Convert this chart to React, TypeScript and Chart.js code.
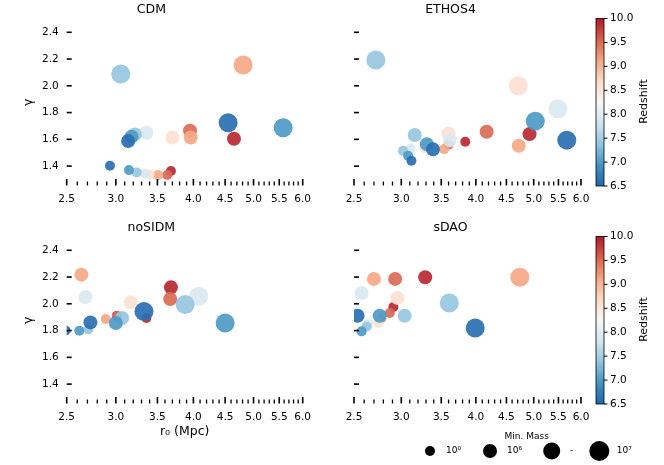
import React, { useEffect, useRef } from 'react';
import { Chart, registerables } from 'chart.js';

Chart.register(...registerables);

const FONT = "'DejaVu Sans', 'Liberation Sans', sans-serif";

// ---------- data: r0 (Mpc), gamma, redshift, log10(min. mass) ----------
const cdmR0 = [3.055, 4.81, 4.55, 5.58, 4.65, 3.95, 3.96, 3.70, 3.36, 3.22, 3.18, 3.14, 2.935, 3.15, 3.24, 3.34, 3.40, 3.51, 3.63, 3.68];
const cdmGamma = [2.088, 2.155, 1.724, 1.686, 1.604, 1.664, 1.614, 1.614, 1.649, 1.637, 1.62, 1.587, 1.402, 1.37, 1.353, 1.345, 1.338, 1.333, 1.333, 1.363];
const cdmZ = [7.4, 9.1, 6.6, 7.0, 9.9, 9.5, 9.1, 8.6, 7.9, 7.4, 7.0, 6.6, 6.6, 7.0, 7.4, 7.9, 8.6, 9.1, 9.5, 9.9];
const cdmMass = [7, 7, 7, 7, 6, 6, 6, 6, 6, 6, 6, 6, 0, 0, 0, 0, 0, 0, 0, 0];

const ethosR0 = [2.72, 4.71, 5.49, 5.03, 5.68, 4.92, 4.72, 4.17, 3.84, 3.60, 3.62, 3.54, 3.60, 3.31, 3.39, 3.28, 3.16, 3.02, 3.11, 3.08, 3.12];
const ethosGamma = [2.193, 2.0, 1.828, 1.736, 1.594, 1.639, 1.552, 1.657, 1.582, 1.644, 1.594, 1.527, 1.56, 1.564, 1.525, 1.535, 1.632, 1.514, 1.532, 1.477, 1.44];
const ethosZ = [7.4, 8.6, 7.9, 7.0, 6.6, 9.9, 9.1, 9.5, 9.9, 8.6, 7.9, 9.1, 9.5, 7.0, 6.6, 8.6, 7.4, 7.4, 7.9, 7.0, 6.6];
const ethosMass = [7, 7, 7, 7, 7, 6, 6, 6, 0, 6, 6, 0, 0, 6, 6, 0, 6, 0, 0, 0, 0];

const nosidmR0 = [2.64, 2.68, 2.73, 2.62, 2.71, 2.49, 2.89, 3.01, 3.07, 3.00, 3.17, 3.33, 3.36, 3.68, 3.67, 3.88, 4.08, 4.50];
const nosidmGamma = [2.218, 2.051, 1.861, 1.799, 1.81, 1.80, 1.887, 1.911, 1.894, 1.857, 2.011, 1.943, 1.894, 2.123, 2.036, 1.994, 2.056, 1.857];
const nosidmZ = [9.1, 7.9, 6.6, 7.0, 7.4, 6.6, 9.1, 9.6, 7.4, 7.0, 8.6, 6.6, 9.9, 9.9, 9.5, 7.4, 7.9, 7.0];
const nosidmMass = [6, 6, 6, 0, 0, 0, 0, 0, 6, 6, 6, 7, 0, 6, 6, 7, 7, 7];

const sdaoR0 = [4.74, 3.29, 2.93, 2.70, 2.575, 2.955, 2.91, 2.87, 3.61, 3.99, 3.04, 2.76, 2.535, 2.78, 2.745, 2.625, 2.64, 2.575];
const sdaoGamma = [2.198, 2.198, 2.186, 2.186, 2.081, 2.044, 1.976, 1.931, 2.006, 1.819, 1.911, 1.911, 1.911, 1.89, 1.857, 1.831, 1.85, 1.794];
const sdaoZ = [9.1, 9.9, 9.5, 9.1, 7.9, 8.6, 9.9, 9.5, 7.4, 6.6, 7.4, 7.0, 6.6, 9.1, 8.6, 7.4, 7.9, 7.0];
const sdaoMass = [7, 6, 6, 6, 6, 6, 0, 0, 7, 7, 6, 6, 6, 0, 0, 0, 0, 0];

// ---------- ticks / labels ----------
const yTickValues = [1.4, 1.6, 1.8, 2.0, 2.2, 2.4];
const xTickValues = [2.5, 2.6, 2.7, 2.8, 2.9, 3.0, 3.1, 3.2, 3.3, 3.4, 3.5, 3.6, 3.7, 3.8, 3.9, 4.0, 4.1, 4.2, 4.3, 4.4, 4.5, 4.6, 4.7, 4.8, 4.9, 5.0, 5.1, 5.2, 5.3, 5.4, 5.5, 5.6, 5.7, 5.8, 5.9, 6.0];
const xLabelValues = [2.5, 3.0, 3.5, 4.0, 4.5, 5.0, 5.5, 6.0];
const cbarTicks = [6.5, 7.0, 7.5, 8.0, 8.5, 9.0, 9.5, 10.0];
const legendLabels = ['10\u2070', '10\u2076', '-', '10\u2077'];
const legendRadii = [5, 7, 8.5, 10];

const Z_MIN = 6.5;
const Z_MAX = 10.0;
const STOPS = ['#2166ac', '#4393c3', '#92c5de', '#d1e5f0', '#f7f7f7', '#fddbc7', '#f4a582', '#d6604d', '#b2182b'];

function hexRgb(h: string) {
  return [parseInt(h.slice(1, 3), 16), parseInt(h.slice(3, 5), 16), parseInt(h.slice(5, 7), 16)];
}
function colorFor(z: number, a: number) {
  let t = (z - Z_MIN) / (Z_MAX - Z_MIN);
  t = Math.max(0, Math.min(1, t));
  const n = STOPS.length - 1;
  const p = t * n;
  const i = Math.min(Math.floor(p), n - 1);
  const f = p - i;
  const c0 = hexRgb(STOPS[i]);
  const c1 = hexRgb(STOPS[i + 1]);
  const c = c0.map((v, k) => Math.round(v + (c1[k] - v) * f));
  return `rgba(${c[0]},${c[1]},${c[2]},${a})`;
}
function radiusFor(m: number) {
  if (m >= 7) return 9.5;
  if (m >= 6) return 7;
  return 5;
}
const isLabelled = (v: number) => xLabelValues.some((l) => Math.abs(l - v) < 1e-6);

// ---------- plugins ----------
const inTicksPlugin = {
  id: 'inTicks',
  afterDatasetsDraw(chart: any) {
    const { ctx, chartArea: ca, scales } = chart;
    const x = scales.x;
    const y = scales.y;
    ctx.save();
    ctx.strokeStyle = '#000';
    yTickValues.forEach((v) => {
      const py = y.getPixelForValue(v);
      ctx.lineWidth = 1.6;
      ctx.beginPath();
      ctx.moveTo(ca.left, py);
      ctx.lineTo(ca.left + 5, py);
      ctx.stroke();
    });
    xTickValues.forEach((v) => {
      const px = x.getPixelForValue(v);
      const major = isLabelled(v);
      ctx.lineWidth = major ? 1.6 : 1.3;
      ctx.beginPath();
      ctx.moveTo(px, ca.bottom);
      ctx.lineTo(px, ca.bottom - (major ? 6.5 : 4));
      ctx.stroke();
    });
    ctx.restore();
  },
};

const colorbarPlugin = {
  id: 'colorbar',
  afterDraw(chart: any) {
    const ctx = chart.ctx;
    const x0 = 276;
    const x1 = 284;
    const top = 18.5;
    const bot = 186;
    ctx.save();
    const g = ctx.createLinearGradient(0, bot, 0, top);
    STOPS.forEach((c, i) => g.addColorStop(i / (STOPS.length - 1), c));
    ctx.fillStyle = g;
    ctx.fillRect(x0, top, x1 - x0, bot - top);
    ctx.strokeStyle = '#000';
    ctx.lineWidth = 0.8;
    ctx.strokeRect(x0, top, x1 - x0, bot - top);
    ctx.fillStyle = '#000';
    ctx.font = `10.5px ${FONT}`;
    ctx.textAlign = 'left';
    ctx.textBaseline = 'middle';
    cbarTicks.forEach((v) => {
      const py = bot - ((v - Z_MIN) / (Z_MAX - Z_MIN)) * (bot - top);
      ctx.lineWidth = 1;
      ctx.beginPath();
      ctx.moveTo(x1, py);
      ctx.lineTo(x1 + 3.5, py);
      ctx.stroke();
      ctx.fillText(v.toFixed(1), x1 + 6, py);
    });
    ctx.translate(327.3, 101.5);
    ctx.rotate(-Math.PI / 2);
    ctx.font = `11px ${FONT}`;
    ctx.textAlign = 'center';
    ctx.textBaseline = 'alphabetic';
    ctx.fillText('Redshift', 0, 0);
    ctx.restore();
  },
};

const sizeLegendPlugin = {
  id: 'sizeLegend',
  afterDraw(chart: any) {
    const ctx = chart.ctx;
    const cx = [110, 170, 231.7, 279.3];
    const lx = [126, 187, 250, 296.7];
    const cy = 233;
    ctx.save();
    ctx.fillStyle = '#000';
    ctx.font = `9px ${FONT}`;
    ctx.textAlign = 'center';
    ctx.textBaseline = 'middle';
    ctx.fillText('Min. Mass', 206.7, 218.7);
    ctx.textAlign = 'left';
    legendRadii.forEach((r, i) => {
      ctx.beginPath();
      ctx.arc(cx[i], cy, r, 0, Math.PI * 2);
      ctx.fill();
      ctx.fillText(legendLabels[i], lx[i], cy);
    });
    ctx.restore();
  },
};

type PanelProps = {
  title: string;
  r0: number[];
  gamma: number[];
  z: number[];
  mass: number[];
  left: number;
  top: number;
  width: number;
  height: number;
  yAxisW: number;
  padRight: number;
  xAxisH: number;
  showYLabels: boolean;
  showXTitle: boolean;
  colorbar: boolean;
  legend: boolean;
};

function Panel(p: PanelProps) {
  const ref = useRef<HTMLCanvasElement>(null);
  useEffect(() => {
    const order = p.z.map((_, i) => i).sort((a, b) => p.z[b] - p.z[a]);
    const pts = order.map((i) => ({ x: p.r0[i], y: p.gamma[i], z: p.z[i], m: p.mass[i] }));
    const plugins: any[] = [inTicksPlugin];
    if (p.colorbar) plugins.push(colorbarPlugin);
    if (p.legend) plugins.push(sizeLegendPlugin);
    const chart = new Chart(ref.current as HTMLCanvasElement, {
      type: 'scatter',
      data: {
        datasets: [
          {
            data: pts as any,
            pointRadius: (c: any) => radiusFor(c.raw.m),
            pointHoverRadius: (c: any) => radiusFor(c.raw.m),
            pointBackgroundColor: (c: any) => colorFor(c.raw.z, 0.92),
            pointBorderWidth: 0,
            pointHoverBorderWidth: 0,
            clip: { left: 0, top: false, right: false, bottom: false } as any,
          },
        ],
      },
      options: {
        responsive: false,
        animation: false,
        events: [],
        layout: { padding: { left: 0, top: 0, right: p.padRight, bottom: 0 } },
        plugins: {
          legend: { display: false },
          tooltip: { enabled: false },
          title: {
            display: true,
            text: p.title,
            color: '#000',
            font: { size: 12.5, weight: 'normal', family: FONT },
            padding: { top: 2, bottom: 1.9 },
          },
        },
        scales: {
          x: {
            type: 'logarithmic',
            position: 'bottom',
            min: 2.5,
            max: 6.0,
            afterBuildTicks: (s: any) => {
              s.ticks = xTickValues.map((v) => ({ value: v }));
            },
            afterFit: (s: any) => {
              s.height = p.xAxisH;
            },
            grid: { display: false, drawTicks: false },
            border: { display: false },
            ticks: {
              autoSkip: false,
              maxRotation: 0,
              minRotation: 0,
              padding: 7,
              color: '#000',
              font: { size: 10.5, family: FONT },
              callback: (v: any) => (isLabelled(Number(v)) ? Number(v).toFixed(1) : ''),
            },
            title: {
              display: p.showXTitle,
              text: 'r\u2080 (Mpc)',
              color: '#000',
              font: { size: 12.5, family: FONT },
              padding: { top: 0, bottom: 25.8 },
            },
          },
          y: {
            type: 'linear',
            position: 'left',
            min: 1.255,
            max: 2.5,
            afterBuildTicks: (s: any) => {
              s.ticks = yTickValues.map((v) => ({ value: v }));
            },
            afterFit: (s: any) => {
              s.width = p.yAxisW;
            },
            grid: { display: false, drawTicks: false },
            border: { display: false },
            ticks: {
              display: p.showYLabels,
              padding: 8,
              color: '#000',
              font: { size: 10.5, family: FONT },
              callback: (v: any) => Number(v).toFixed(1),
            },
            title: {
              display: p.showYLabels,
              text: '\u03b3',
              color: '#000',
              font: { size: 12.5, family: FONT },
              padding: { top: 21, bottom: 0 },
            },
          },
        },
      } as any,
      plugins,
    });
    return () => chart.destroy();
  }, []);
  return (
    <canvas
      ref={ref}
      width={p.width}
      height={p.height}
      style={{ position: 'absolute', left: p.left, top: p.top, width: p.width, height: p.height }}
    />
  );
}

export default function App() {
  return (
    <div style={{ position: 'absolute', left: 0, top: 0, width: 664, height: 465, background: '#fff', overflow: 'hidden' }}>
      <Panel title="CDM" r0={cdmR0} gamma={cdmGamma} z={cdmZ} mass={cdmMass}
        left={0} top={0} width={320} height={218} yAxisW={66.7} padRight={17.3} xAxisH={32.5}
        showYLabels={true} showXTitle={false} colorbar={false} legend={false} />
      <Panel title="ETHOS4" r0={ethosR0} gamma={ethosGamma} z={ethosZ} mass={ethosMass}
        left={320} top={0} width={344} height={218} yAxisW={34} padRight={83} xAxisH={32.5}
        showYLabels={false} showXTitle={false} colorbar={true} legend={false} />
      <Panel title="noSIDM" r0={nosidmR0} gamma={nosidmGamma} z={nosidmZ} mass={nosidmMass}
        left={0} top={218} width={320} height={247} yAxisW={66.7} padRight={17.3} xAxisH={61.5}
        showYLabels={true} showXTitle={true} colorbar={false} legend={false} />
      <Panel title="sDAO" r0={sdaoR0} gamma={sdaoGamma} z={sdaoZ} mass={sdaoMass}
        left={320} top={218} width={344} height={247} yAxisW={34} padRight={83} xAxisH={61.5}
        showYLabels={false} showXTitle={false} colorbar={true} legend={true} />
    </div>
  );
}
